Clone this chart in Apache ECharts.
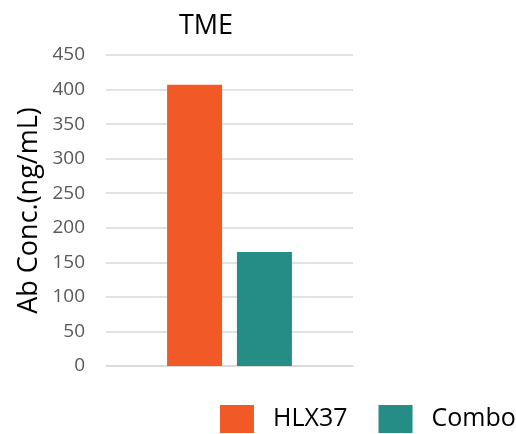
<!DOCTYPE html>
<html><head><meta charset="utf-8">
<script src="https://cdn.jsdelivr.net/npm/echarts@6/dist/echarts.min.js"></script>
<style>html,body{margin:0;padding:0;background:#fff}#c{width:516px;height:434px}</style>
</head><body><div id="c"></div>
<script>
const categories = ['TME'];
const seriesNames = ['HLX37', 'Combo'];
const hlx37Values = [407];
const comboValues = [165];
const yTicks = [0, 50, 100, 150, 200, 250, 300, 350, 400, 450];

const font = '"Open Sans", "Noto Sans", sans-serif';
const chart = echarts.init(document.getElementById('c'));
chart.setOption({
  animation: false,
  title: {
    text: categories[0], left: 201, top: 8, textAlign: 'center',
    textStyle: { fontFamily: font, fontSize: 27, fontWeight: 'normal', color: '#000' }
  },
  legend: {
    data: seriesNames, left: 220, top: 405, width: 320, padding: 0,
    itemWidth: 34, itemHeight: 28, itemGap: 31,
    icon: 'rect',
    textStyle: { fontFamily: font, fontSize: 25, color: '#000', padding: [0, 0, 0, 14] }
  },
  grid: { left: 106, right: 163, top: 55, bottom: 68 },
  xAxis: {
    type: 'category', data: categories,
    axisLine: { show: true, lineStyle: { color: '#d9d9d9', width: 1.5 } },
    axisTick: { show: false }, axisLabel: { show: false }
  },
  yAxis: {
    type: 'value', min: yTicks[0], max: yTicks[yTicks.length - 1], interval: 50,
    name: 'Ab Conc.(ng/mL)', nameLocation: 'middle', nameGap: 63,
    nameTextStyle: { fontFamily: font, fontSize: 27, color: '#000' },
    axisLine: { show: false }, axisTick: { show: false },
    axisLabel: { fontFamily: font, fontSize: 19, color: '#595959', margin: 21 },
    splitLine: { lineStyle: { color: '#d9d9d9', width: 1.5 } }
  },
  series: [
    { name: seriesNames[0], type: 'bar', data: hlx37Values, barWidth: 55, barGap: '27%',
      itemStyle: { color: '#F15A27' } },
    { name: seriesNames[1], type: 'bar', data: comboValues, barWidth: 55,
      itemStyle: { color: '#258D85' } }
  ]
});
</script></body></html>
